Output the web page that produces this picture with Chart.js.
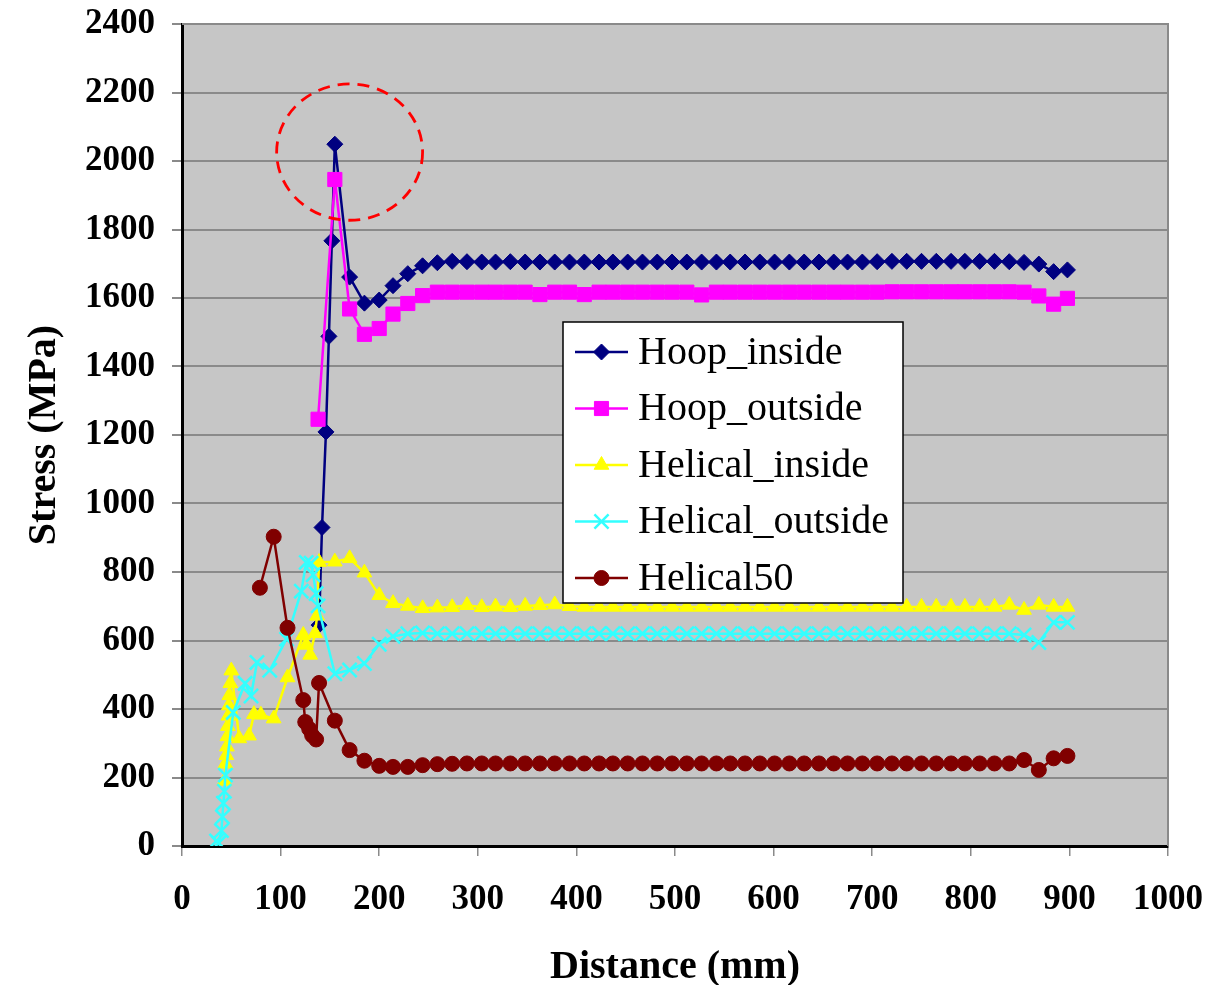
<!DOCTYPE html>
<html>
<head>
<meta charset="utf-8">
<script src="https://cdn.jsdelivr.net/npm/chart.js@4.4.0/dist/chart.umd.min.js"></script>
<style>
html,body{margin:0;padding:0;background:#ffffff;}
#wrap{width:1230px;height:985px;position:relative;}
</style>
</head>
<body>
<div id="wrap"><canvas id="c" width="1230" height="985"></canvas></div>
<script>
// ---------------- data ----------------
const seriesNames = ['Hoop_inside', 'Hoop_outside', 'Helical_inside', 'Helical_outside', 'Helical50'];
const xTicks = [0, 100, 200, 300, 400, 500, 600, 700, 800, 900, 1000];
const yTicks = [0, 200, 400, 600, 800, 1000, 1200, 1400, 1600, 1800, 2000, 2200, 2400];

// shared distances (mm) from the peak onwards
const xTail = [155,170,185,200,214,229,244,259,274,289,
               304,318,333,348,363,378,393,408,423,437,
               452,467,482,497,512,527,542,556,571,586,
               601,616,631,646,661,675,690,705,720,735,
               750,765,780,794,809,824,839,854,869,884,
               898];

const hoopInHeadX = [139,142,146,149,152];
const hoopInHeadY = [645,930,1209,1488,1767];
const hoopInTail = [2049,1661,1585,1594,1636,1671,1694,1703,1707,1706,
                    1705,1705,1706,1705,1705,1705,1705,1705,1705,1705,
                    1705,1705,1705,1705,1705,1705,1705,1705,1705,1705,
                    1705,1705,1705,1705,1705,1705,1705,1706,1707,1707,
                    1707,1707,1707,1707,1707,1707,1706,1704,1699,1677,
                    1682];

const hoopOutHeadX = [138];
const hoopOutHeadY = [1246];
const hoopOutTail = [1946,1568,1494,1511,1553,1584,1607,1617,1617,1617,
                     1617,1617,1617,1617,1610,1617,1617,1610,1617,1617,
                     1617,1617,1617,1617,1617,1609,1617,1617,1617,1617,
                     1617,1617,1617,1617,1617,1617,1617,1617,1618,1618,
                     1618,1618,1618,1618,1618,1618,1618,1617,1606,1582,
                     1599];

const helInHeadX = [43,44,45,45.5,46,46.5,47,47.5,48,49,50,58,68,73,80,93,107,123,126,130,135,137,139];
const helInHeadY = [190,240,265,290,320,350,380,410,440,475,512,314,322,385,383,372,492,616,587,558,621,672,829];
const helInTail = [830,840,798,732,709,701,694,696,697,703,
                   697,699,697,701,703,705,700,698,698,698,
                   698,698,698,698,698,698,698,698,698,698,
                   698,698,698,698,698,698,698,698,698,698,
                   698,698,698,698,698,698,704,689,704,698,
                   698];

const helOutHeadX = [35,37,40,41,42,43,44,52,64,70,76,89,106,121,126,131,133,136,138];
const helOutHeadY = [15,8,45,85,125,160,207,390,475,438,536,513,604,744,828,826,792,737,701];
const helOutTail = [503,514,533,589,612,620,622,620,620,620,
                    620,620,620,620,620,620,620,620,620,620,
                    620,620,620,620,620,620,620,620,620,620,
                    620,620,620,620,620,620,620,620,620,620,
                    620,620,620,620,620,620,620,616,594,653,
                    653];

const h50HeadX = [79,93,107,123,125,129,132,136,139];
const h50HeadY = [754,903,637,426,362,342,323,311,476];
const h50Tail = [366,280,249,234,231,231,236,239,240,241,
                 241,241,241,241,241,241,241,241,241,241,
                 241,241,241,241,241,241,241,241,241,241,
                 241,241,241,241,241,241,241,241,241,241,
                 241,241,241,241,241,241,241,251,222,256,
                 263];

// highlighted peak region (data units)
const peakCenter = {x: 170, y: 2026};
const peakRadius = {x: 74, y: 199};

// ---------------- build ----------------
function pts(hx, hy, ty) {
  const out = hx.map((x, i) => ({x: x, y: hy[i]}));
  xTail.forEach((x, i) => out.push({x: x, y: ty[i]}));
  return out;
}

const styles = [
  {color: '#000080', style: 'rectRot', radius: 8, bw: 1},
  {color: '#ff00ff', style: 'rect', radius: 10, bw: 1},
  {color: '#ffff00', style: 'triangle', radius: 8.5, bw: 1},
  {color: '#33ffff', style: 'crossRot', radius: 10, bw: 2.5},
  {color: '#800000', style: 'circle', radius: 7.5, bw: 1}
];
const seriesData = [
  pts(hoopInHeadX, hoopInHeadY, hoopInTail),
  pts(hoopOutHeadX, hoopOutHeadY, hoopOutTail),
  pts(helInHeadX, helInHeadY, helInTail),
  pts(helOutHeadX, helOutHeadY, helOutTail),
  pts(h50HeadX, h50HeadY, h50Tail)
];

const datasets = seriesNames.map((name, i) => ({
  label: name,
  data: seriesData[i],
  borderColor: styles[i].color,
  backgroundColor: styles[i].color,
  borderWidth: 2.5,
  pointStyle: styles[i].style,
  pointRadius: styles[i].radius,
  pointHoverRadius: styles[i].radius,
  pointBorderWidth: styles[i].bw,
  pointBorderColor: styles[i].color,
  pointBackgroundColor: styles[i].color,
  tension: 0,
  fill: false,
  showLine: true,
  order: seriesNames.length - i
}));

const SERIF = '"Liberation Serif", "Times New Roman", serif';
const PLOT_BG = '#c6c6c6';
const GRID = '#8a8a8a';

function drawMarker(ctx, st, x, y) {
  ctx.save();
  ctx.fillStyle = st.color;
  ctx.strokeStyle = st.color;
  ctx.lineWidth = st.bw;
  if (Chart.helpers && Chart.helpers.drawPoint) {
    Chart.helpers.drawPoint(ctx, {pointStyle: st.style, radius: st.radius, rotation: 0, borderWidth: st.bw}, x, y);
  } else {
    ctx.beginPath(); ctx.arc(x, y, st.radius, 0, Math.PI * 2); ctx.fill();
  }
  ctx.restore();
}

const decor = {
  id: 'decor',
  beforeDraw(chart) {
    const {ctx, chartArea: a} = chart;
    ctx.save();
    ctx.fillStyle = PLOT_BG;
    ctx.fillRect(a.left, a.top, a.right - a.left, a.bottom - a.top);
    ctx.restore();
  },
  afterDatasetsDraw(chart) {
    const {ctx, chartArea: a, scales} = chart;
    // right & top frame
    ctx.save();
    ctx.strokeStyle = GRID;
    ctx.lineWidth = 2;
    ctx.beginPath();
    ctx.moveTo(a.left, a.top); ctx.lineTo(a.right, a.top); ctx.lineTo(a.right, a.bottom);
    ctx.stroke();
    ctx.restore();

    // dashed ellipse around the peak
    const cx = scales.x.getPixelForValue(peakCenter.x);
    const cy = scales.y.getPixelForValue(peakCenter.y);
    const rx = scales.x.getPixelForValue(peakCenter.x + peakRadius.x) - cx;
    const ry = cy - scales.y.getPixelForValue(peakCenter.y + peakRadius.y);
    ctx.save();
    ctx.strokeStyle = '#ff0000';
    ctx.lineWidth = 2.8;
    ctx.setLineDash([12, 8]);
    ctx.beginPath();
    ctx.ellipse(cx, cy, rx, ry, 0, 0, Math.PI * 2);
    ctx.stroke();
    ctx.restore();

    // legend
    const L = {x: 563, y: 322, w: 340, h: 281, row0: 352, step: 56.5, lx0: 575, lx1: 628, tx: 638};
    ctx.save();
    ctx.fillStyle = '#ffffff';
    ctx.fillRect(L.x, L.y, L.w, L.h);
    ctx.strokeStyle = '#000000';
    ctx.lineWidth = 1.5;
    ctx.strokeRect(L.x, L.y, L.w, L.h);
    seriesNames.forEach((name, i) => {
      const yy = L.row0 + i * L.step;
      ctx.strokeStyle = styles[i].color;
      ctx.lineWidth = 2.5;
      ctx.beginPath(); ctx.moveTo(L.lx0, yy); ctx.lineTo(L.lx1, yy); ctx.stroke();
      drawMarker(ctx, styles[i], (L.lx0 + L.lx1) / 2, yy);
      ctx.fillStyle = '#000000';
      ctx.font = '40px ' + SERIF;
      ctx.textAlign = 'left';
      ctx.textBaseline = 'middle';
      ctx.fillText(name, L.tx, yy + 1);
    });
    ctx.restore();
  }
};

new Chart(document.getElementById('c'), {
  type: 'scatter',
  data: {datasets: datasets},
  plugins: [decor],
  options: {
    responsive: false,
    animation: false,
    devicePixelRatio: 1,
    layout: {padding: {top: 24, right: 62, bottom: 0, left: 0}},
    plugins: {legend: {display: false}, tooltip: {enabled: false}},
    elements: {line: {tension: 0}},
    scales: {
      x: {
        type: 'linear', min: 0, max: 1000,
        afterBuildTicks: s => { s.ticks = xTicks.map(v => ({value: v})); },
        afterFit: s => { s.height = 139; s.paddingLeft = 0; s.paddingRight = 0; },
        ticks: {
          autoSkip: false, maxRotation: 0, padding: 23, color: '#000',
          callback: v => String(v),
          font: {family: SERIF, size: 35, weight: 'bold'}
        },
        grid: {drawOnChartArea: false, drawTicks: true, tickLength: 10, color: GRID, lineWidth: 1.5},
        border: {display: true, color: '#000', width: 3},
        title: {display: true, text: 'Distance (mm)', color: '#000',
                font: {family: SERIF, size: 40, weight: 'bold', lineHeight: 0.85}, padding: {top: 0, bottom: 0}}
      },
      y: {
        type: 'linear', min: 0, max: 2400,
        afterBuildTicks: s => { s.ticks = yTicks.map(v => ({value: v})); },
        afterFit: s => { s.width = 182; s.paddingTop = 0; s.paddingBottom = 0; },
        ticks: {
          autoSkip: false, padding: 17, color: '#000',
          callback: v => String(v),
          font: {family: SERIF, size: 35, weight: 'bold'}
        },
        grid: {drawOnChartArea: true, drawTicks: true, tickLength: 10, color: GRID, lineWidth: 2},
        border: {display: true, color: '#000', width: 3},
        title: {display: true, text: 'Stress (MPa)', color: '#000',
                font: {family: SERIF, size: 40, weight: 'bold'}, padding: {top: 21, bottom: 0}}
      }
    }
  }
});
</script>
</body>
</html>
